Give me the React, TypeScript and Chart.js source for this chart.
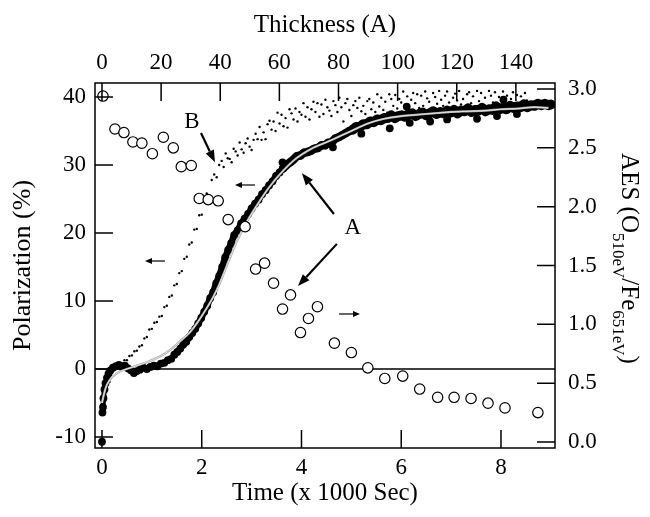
import React, { useEffect, useRef } from "react";
import { Chart, registerables } from "chart.js";

Chart.register(...registerables);

// ---- tick labels ----
const timeTicks = [0, 2, 4, 6, 8];
const thicknessTicks = [0, 20, 40, 60, 80, 100, 120, 140];
const polTicks = [-10, 0, 10, 20, 30, 40];
const aesTicks = [0, 0.5, 1.0, 1.5, 2.0, 2.5, 3.0];

// ---- AES (open circles, right axis) ----
const aesTime = [0.02, 0.26, 0.44, 0.62, 0.8, 1.01, 1.23, 1.43, 1.59, 1.79, 1.95, 2.13, 2.33, 2.53, 2.87, 3.08, 3.26, 3.44, 3.62, 3.78, 3.98, 4.14, 4.32, 4.66, 5.0, 5.33, 5.67, 6.03, 6.37, 6.73, 7.06, 7.4, 7.74, 8.08, 8.74];
const aesValue = [2.94, 2.66, 2.63, 2.55, 2.54, 2.45, 2.59, 2.5, 2.34, 2.35, 2.07, 2.06, 2.05, 1.89, 1.83, 1.47, 1.52, 1.35, 1.13, 1.25, 0.93, 1.05, 1.15, 0.84, 0.76, 0.63, 0.54, 0.56, 0.45, 0.38, 0.38, 0.37, 0.33, 0.29, 0.25];

// ---- Polarization A (large filled dots, main trace) ----
const aTime = [0.0, 0.005, 0.01, 0.02, 0.03, 0.05, 0.07, 0.1, 0.13, 0.17, 0.22, 0.28, 0.34, 0.4, 0.46, 0.52, 0.58, 0.64, 0.7, 0.76, 0.83, 0.9, 0.97, 1.04, 1.11, 1.18, 1.25, 1.32, 1.39, 1.45, 1.51, 1.57, 1.63, 1.69, 1.75, 1.81, 1.87, 1.93, 1.99, 2.05, 2.11, 2.17, 2.23, 2.29, 2.35, 2.41, 2.47, 2.53, 2.59, 2.65, 2.72, 2.79, 2.86, 2.93, 3.0, 3.07, 3.14, 3.21, 3.28, 3.35, 3.42, 3.49, 3.56, 3.63, 3.7, 3.77, 3.84, 3.91, 3.98, 4.05, 4.12, 4.19, 4.26, 4.33, 4.4, 4.47, 4.54, 4.61, 4.68, 4.75, 4.82, 4.89, 4.96, 5.03, 5.1, 5.17, 5.24, 5.31, 5.38, 5.45, 5.52, 5.59, 5.66, 5.73, 5.8, 5.87, 5.94, 6.01, 6.08, 6.15, 6.22, 6.29, 6.36, 6.43, 6.5, 6.57, 6.64, 6.71, 6.78, 6.85, 6.92, 6.99, 7.06, 7.13, 7.2, 7.27, 7.34, 7.41, 7.48, 7.55, 7.62, 7.69, 7.76, 7.83, 7.9, 7.97, 8.04, 8.11, 8.18, 8.25, 8.32, 8.39, 8.46, 8.53, 8.6, 8.67, 8.74, 8.81, 8.88, 8.95, 9.0];
const aPol = [-10.7, null, -6.4, -5.6, -4.3, -3.0, -2.1, -1.3, -0.7, -0.2, 0.2, 0.4, 0.6, 0.3, 0.5, 0.1, -0.2, -0.6, -0.3, -0.1, 0.2, 0.0, 0.3, 0.5, 0.4, 0.8, 0.9, 1.3, 1.5, 2.1, 2.5, 3.0, 3.6, 4.0, 4.7, 5.3, 5.9, 6.7, 7.5, 8.4, 9.3, 10.4, 11.3, 12.6, 13.7, 15.0, 16.4, 17.5, 18.5, 19.7, 20.4, 21.4, 22.1, 22.8, 23.6, 24.3, 24.9, 25.7, 26.3, 27.0, 27.6, 28.4, 28.9, 29.5, 30.0, 30.4, 30.8, 31.3, 31.4, 31.8, 31.9, 32.1, 32.4, 32.5, 32.9, 32.9, 33.3, 33.4, 33.9, 34.1, 34.4, 34.7, 35.0, 35.2, 35.6, 35.6, 36.0, 36.0, 36.4, 36.3, 36.7, 36.6, 36.9, 36.9, 37.3, 36.9, 37.2, 37.3, 37.1, 37.5, 37.6, 37.2, 37.5, 37.7, 37.3, 37.6, 37.9, 37.5, 37.8, 37.6, 38.0, 37.7, 38.1, 37.6, 38.0, 37.9, 38.3, 37.8, 38.1, 38.0, 38.4, 37.9, 38.2, 38.1, 38.6, 38.2, 38.4, 38.2, 38.7, 38.4, 38.6, 38.5, 38.9, 38.5, 38.8, 38.7, 39.0, 38.8, 39.0, 38.8, 38.9];

// ---- Polarization A (stray dots off the main trace) ----
const aStrayTime = [4.63, 5.77, 6.17, 6.58, 6.92, 7.52, 7.92, 8.32, 6.11, 8.05, 3.62, 5.2];
const aStrayPol = [32.6, 35.4, 36.2, 36.4, 36.7, 36.8, 37.2, 37.5, 38.6, 39.6, 30.4, 34.6];

// ---- Polarization B (small dots) ----
const bTime = [0.15, 0.2, 0.25, 0.3, 0.35, 0.4, 0.45, 0.5, 0.55, 0.6, 0.65, 0.7, 0.75, 0.8, 0.85, 0.9, 0.95, 1.0, 1.05, 1.1, 1.15, 1.2, 1.25, 1.3, 1.35, 1.4, 1.45, 1.5, 1.55, 1.6, 1.65, 1.7, 1.75, 1.8, 1.85, 1.9, 1.95, 2.0, 2.05, 2.1, 2.15, 2.2, 2.25, 2.3, 2.35, 2.4, 2.44, 2.48, 2.52, 2.56, 2.6, 2.64, 2.68, 2.72, 2.76, 2.8, 2.84, 2.88, 2.92, 2.96, 3.0, 3.04, 3.08, 3.12, 3.16, 3.2, 3.24, 3.28, 3.32, 3.36, 3.4, 3.44, 3.48, 3.52, 3.56, 3.6, 3.64, 3.68, 3.72, 3.76, 3.8, 3.84, 3.88, 3.92, 3.96, 4.0, 4.04, 4.08, 4.12, 4.16, 4.2, 4.24, 4.28, 4.32, 4.36, 4.4, 4.44, 4.48, 4.52, 4.56, 4.6, 4.64, 4.68, 4.72, 4.76, 4.8, 4.84, 4.88, 4.92, 4.96, 5.0, 5.04, 5.08, 5.12, 5.16, 5.2, 5.24, 5.28, 5.32, 5.36, 5.4, 5.44, 5.48, 5.52, 5.56, 5.6, 5.64, 5.68, 5.72, 5.76, 5.8, 5.84, 5.88, 5.92, 5.96, 6.0, 6.04, 6.08, 6.12, 6.16, 6.2, 6.24, 6.28, 6.32, 6.36, 6.4, 6.44, 6.48, 6.52, 6.56, 6.6, 6.64, 6.68, 6.72, 6.76, 6.8, 6.84, 6.88, 6.92, 6.96, 7.0, 7.04, 7.08, 7.12, 7.16, 7.2, 7.24, 7.28, 7.32, 7.36, 7.4, 7.44, 7.48, 7.52, 7.56, 7.6, 7.64, 7.68, 7.72, 7.76, 7.8, 7.84, 7.88, 7.92, 7.96, 8.0, 8.04, 8.08, 8.12, 8.16, 8.2, 8.24, 8.28, 8.32, 8.36, 8.4, 8.44, 8.48, 8.52, 8.56];
const bPol = [-1.9, -0.6, 0.4, 0.4, 0.9, 0.8, 1.3, 1.3, 1.9, 2.0, 2.6, 2.7, 3.3, 3.5, 4.5, 4.7, 5.8, 5.9, 6.8, 6.9, 7.7, 7.8, 9.1, 9.3, 10.6, 10.8, 12.3, 12.5, 14.1, 14.4, 16.2, 16.5, 18.3, 18.6, 20.5, 20.6, 22.6, 22.7, 24.6, 25.8, 25.5, 27.8, 28.6, 28.2, 30.0, 30.6, 29.7, 31.7, 31.0, 30.9, 30.4, 32.4, 32.0, 31.4, 33.3, 32.3, 31.8, 33.2, 33.9, 32.7, 32.2, 33.7, 34.6, 33.8, 35.6, 33.7, 34.8, 33.8, 36.0, 36.5, 35.2, 36.4, 35.0, 37.7, 36.1, 37.4, 35.7, 36.9, 35.5, 38.2, 37.6, 36.7, 38.3, 36.4, 37.8, 37.4, 39.1, 37.1, 38.5, 36.7, 38.2, 39.3, 37.8, 39.1, 37.1, 38.9, 37.5, 39.6, 38.5, 38.0, 37.2, 39.4, 38.8, 37.8, 39.9, 38.5, 36.4, 39.1, 39.7, 38.1, 37.2, 38.8, 39.4, 38.4, 39.9, 37.9, 38.7, 37.5, 39.4, 39.7, 38.2, 39.2, 37.8, 40.4, 38.6, 39.9, 38.1, 39.3, 37.7, 40.4, 39.7, 38.7, 40.3, 38.3, 39.7, 39.2, 40.8, 38.7, 40.1, 38.2, 39.6, 40.6, 39.1, 40.4, 38.4, 40.2, 38.7, 40.8, 39.8, 39.3, 38.4, 40.6, 40.0, 39.0, 40.9, 39.6, 38.7, 40.2, 40.8, 39.2, 38.3, 39.9, 40.5, 39.5, 40.9, 38.9, 39.7, 38.5, 40.4, 40.7, 39.1, 40.1, 38.6, 40.9, 39.4, 40.6, 38.8, 39.9, 38.3, 40.9, 40.2, 39.2, 40.7, 38.7, 40.0, 39.5, 40.8, 39.0, 40.2, 38.3, 39.7, 40.7, 39.1, 40.3, 38.3, 40.1, 38.6, 40.6, 39.5, 39.0];

// ---- fitted curve (grey line) ----
const fitTime = [0.0, 0.05, 0.1, 0.2, 0.35, 0.5, 0.7, 0.9, 1.1, 1.25, 1.4, 1.57, 1.75, 1.91, 2.07, 2.23, 2.35, 2.45, 2.57, 2.7, 2.9, 3.1, 3.35, 3.6, 3.9, 4.2, 4.45, 4.64, 5.0, 5.33, 5.66, 6.0, 6.33, 6.65, 7.0, 7.34, 7.7, 8.0, 8.33, 8.66, 8.95];
const fitPol = [-5.0, -3.4, -2.3, -1.2, -0.4, 0.0, 0.5, 1.0, 1.6, 2.2, 3.0, 4.1, 5.3, 6.8, 8.6, 10.6, 12.4, 14.2, 16.4, 18.7, 21.6, 24.0, 26.7, 28.9, 31.0, 32.4, 33.2, 33.8, 35.0, 36.1, 36.8, 37.2, 37.4, 37.6, 37.8, 37.9, 38.0, 38.2, 38.3, 38.5, 38.4];

// ---- annotations (in data units: time, polarization) ----
const textNotes = [
  { text: "B", t: 1.805, p: 36.3 },
  { text: "A", t: 5.03, p: 20.7 },
];
const arrowNotes = [
  { from: [1.985, 34.7], to: [2.266, 30.4], bold: true },
  { from: [4.65, 22.8], to: [4.01, 28.8], bold: true },
  { from: [4.71, 18.4], to: [3.93, 12.2], bold: true },
  { from: [3.068, 27.06], to: [2.667, 27.06], bold: false },
  { from: [1.263, 15.88], to: [0.862, 15.88], bold: false },
  { from: [4.752, 8.09], to: [5.173, 8.09], bold: false },
];

const X_MIN = -0.14;
const X_MAX = 9.083;
const THICK_PER_KSEC = 16.87;
const SERIF = "'Liberation Serif', 'Times New Roman', serif";

function drawArrow(ctx: CanvasRenderingContext2D, x1: number, y1: number, x2: number, y2: number, bold: boolean) {
  const lw = bold ? 2.2 : 1.2;
  const hl = bold ? 12 : 7;
  const hw = bold ? 4.5 : 3;
  const ang = Math.atan2(y2 - y1, x2 - x1);
  const bx = x2 - hl * Math.cos(ang);
  const by = y2 - hl * Math.sin(ang);
  ctx.lineWidth = lw;
  ctx.beginPath();
  ctx.moveTo(x1, y1);
  ctx.lineTo(bx, by);
  ctx.stroke();
  ctx.beginPath();
  ctx.moveTo(x2, y2);
  ctx.lineTo(bx + hw * Math.sin(ang), by - hw * Math.cos(ang));
  ctx.lineTo(bx - hw * Math.sin(ang), by + hw * Math.cos(ang));
  ctx.closePath();
  ctx.fill();
}

const framePlugin = {
  id: "frame",
  beforeDatasetsDraw(chart: any) {
    const { ctx, chartArea: a, scales } = chart;
    const y0 = scales.y.getPixelForValue(0);
    ctx.save();
    ctx.strokeStyle = "#000";
    ctx.lineWidth = 1.5;
    ctx.beginPath();
    ctx.moveTo(a.left, y0);
    ctx.lineTo(a.right, y0);
    ctx.stroke();
    ctx.restore();
  },
  afterDatasetsDraw(chart: any) {
    const { ctx, chartArea: a, scales } = chart;
    const L = 18;
    ctx.save();
    ctx.strokeStyle = "#000";
    ctx.lineWidth = 1.5;
    ctx.beginPath();
    for (const v of timeTicks) {
      const px = scales.x.getPixelForValue(v);
      ctx.moveTo(px, a.bottom);
      ctx.lineTo(px, a.bottom - L);
    }
    for (const v of thicknessTicks) {
      const px = scales.x2.getPixelForValue(v);
      ctx.moveTo(px, a.top);
      ctx.lineTo(px, a.top + L);
    }
    for (const v of polTicks) {
      const py = scales.y.getPixelForValue(v);
      ctx.moveTo(a.left, py);
      ctx.lineTo(a.left + L, py);
    }
    for (const v of aesTicks) {
      const py = scales.y2.getPixelForValue(v);
      ctx.moveTo(a.right, py);
      ctx.lineTo(a.right - L, py);
    }
    ctx.stroke();
    ctx.strokeRect(a.left, a.top, a.right - a.left, a.bottom - a.top);
    ctx.restore();
  },
  afterDraw(chart: any) {
    const { ctx, chartArea: a, scales } = chart;
    ctx.save();
    ctx.fillStyle = "#000";
    ctx.strokeStyle = "#000";
    for (const n of arrowNotes) {
      drawArrow(
        ctx,
        scales.x.getPixelForValue(n.from[0]),
        scales.y.getPixelForValue(n.from[1]),
        scales.x.getPixelForValue(n.to[0]),
        scales.y.getPixelForValue(n.to[1]),
        n.bold
      );
    }
    ctx.font = `23px ${SERIF}`;
    ctx.textAlign = "center";
    ctx.textBaseline = "middle";
    for (const n of textNotes) {
      ctx.fillText(n.text, scales.x.getPixelForValue(n.t), scales.y.getPixelForValue(n.p));
    }
    // right axis title with subscripts, rotated clockwise
    const segs: [string, boolean][] = [["AES (O", false], ["510eV", true], ["/Fe", false], ["651eV", true], [")", false]];
    const mainFont = `25px ${SERIF}`;
    const subFont = `17px ${SERIF}`;
    let total = 0;
    const widths: number[] = [];
    for (const [s, sub] of segs) {
      ctx.font = sub ? subFont : mainFont;
      const w = ctx.measureText(s).width;
      widths.push(w);
      total += w;
    }
    const cx = a.right + 67;
    const cy = (a.top + a.bottom) / 2 - 7;
    ctx.translate(cx, cy);
    ctx.rotate(Math.PI / 2);
    ctx.textAlign = "left";
    ctx.textBaseline = "alphabetic";
    let u = -total / 2;
    segs.forEach(([s, sub], i) => {
      ctx.font = sub ? subFont : mainFont;
      ctx.fillText(s, u, sub ? 9 : 0);
      u += widths[i];
    });
    ctx.restore();
  },
};

// band width of trace A widens where the scatter of its dots grows
const aBandWidth = (t: number) => (t < 1.4 ? 5 : t < 3.6 ? 6.5 : t < 5 ? 8.5 : 10);

export default function App() {
  const ref = useRef<HTMLCanvasElement | null>(null);
  useEffect(() => {
    if (!ref.current) return;
    Chart.defaults.font.family = SERIF;
    Chart.defaults.color = "#000";
    const pts = (xs: number[], ys: (number | null)[]) => xs.map((x, i) => ({ x, y: ys[i] }));
    const chart = new Chart(ref.current, {
      type: "scatter",
      data: {
        datasets: [
          {
            label: "AES",
            data: pts(aesTime, aesValue),
            xAxisID: "x",
            yAxisID: "y2",
            showLine: false,
            pointRadius: 5.2,
            pointBorderWidth: 1.2,
            pointBackgroundColor: "#fff",
            pointBorderColor: "#000",
            order: 0,
          },
          {
            label: "fit-inner",
            data: pts(fitTime, fitPol),
            xAxisID: "x",
            yAxisID: "y",
            showLine: true,
            borderColor: "#f4f4f4",
            borderWidth: 0.8,
            pointRadius: 0,
            tension: 0.3,
            order: 1,
          },
          {
            label: "fit",
            data: pts(fitTime, fitPol),
            xAxisID: "x",
            yAxisID: "y",
            showLine: true,
            borderColor: "#a8a8a8",
            borderWidth: 2.2,
            pointRadius: 0,
            tension: 0.3,
            order: 2,
          },
          {
            label: "A",
            data: pts(aTime, aPol),
            xAxisID: "x",
            yAxisID: "y",
            showLine: true,
            spanGaps: false,
            borderColor: "#000",
            borderWidth: 6,
            borderJoinStyle: "round",
            borderCapStyle: "round",
            segment: { borderWidth: (c: any) => aBandWidth(c.p0.parsed.x) },
            pointRadius: 3.9,
            pointBorderWidth: 0,
            pointBackgroundColor: "#000",
            order: 3,
          },
          {
            label: "A stray",
            data: pts(aStrayTime, aStrayPol),
            xAxisID: "x",
            yAxisID: "y",
            showLine: false,
            pointRadius: 3.9,
            pointBorderWidth: 0,
            pointBackgroundColor: "#000",
            order: 3,
          },
          {
            label: "B",
            data: pts(bTime, bPol),
            xAxisID: "x",
            yAxisID: "y",
            showLine: false,
            pointRadius: 1.2,
            pointBorderWidth: 0,
            pointBackgroundColor: "#000",
            order: 4,
          },
        ],
      } as any,
      options: {
        animation: false,
        responsive: false,
        layout: { padding: 0 },
        plugins: { legend: { display: false }, tooltip: { enabled: false } },
        scales: {
          x: {
            type: "linear",
            position: "bottom",
            min: X_MIN,
            max: X_MAX,
            afterBuildTicks: (s: any) => {
              s.ticks = timeTicks.map((v) => ({ value: v }));
            },
            afterFit: (s: any) => {
              s.height = 69;
            },
            grid: { display: false, drawTicks: false },
            border: { display: false },
            ticks: { font: { size: 23 }, padding: 6, maxRotation: 0, autoSkip: false, color: "#000" },
            title: { display: true, text: "Time (x 1000 Sec)", font: { size: 25 }, padding: { top: 0, bottom: 9 }, color: "#000" },
          },
          x2: {
            type: "linear",
            position: "top",
            min: X_MIN * THICK_PER_KSEC,
            max: X_MAX * THICK_PER_KSEC,
            afterBuildTicks: (s: any) => {
              s.ticks = thicknessTicks.map((v) => ({ value: v }));
            },
            afterFit: (s: any) => {
              s.height = 83;
            },
            grid: { display: false, drawTicks: false },
            border: { display: false },
            ticks: { font: { size: 23 }, padding: 6, maxRotation: 0, autoSkip: false, color: "#000" },
            title: { display: true, text: "Thickness (A)", font: { size: 25 }, padding: { top: 10, bottom: 0 }, color: "#000" },
          },
          y: {
            type: "linear",
            position: "left",
            min: -11.62,
            max: 42.06,
            afterBuildTicks: (s: any) => {
              s.ticks = polTicks.map((v) => ({ value: v }));
            },
            afterFit: (s: any) => {
              s.width = 95;
            },
            grid: { display: false, drawTicks: false },
            border: { display: false },
            ticks: { font: { size: 23 }, padding: 9, autoSkip: false, color: "#000" },
            title: { display: true, text: "Polarization (%)", font: { size: 26 }, padding: { top: 7.5, bottom: 0 }, color: "#000" },
          },
          y2: {
            type: "linear",
            position: "right",
            min: -0.051,
            max: 3.051,
            afterBuildTicks: (s: any) => {
              s.ticks = aesTicks.map((v) => ({ value: v }));
            },
            afterFit: (s: any) => {
              s.width = 95;
            },
            grid: { display: false, drawTicks: false },
            border: { display: false },
            ticks: {
              font: { size: 23 },
              padding: 13,
              autoSkip: false,
              color: "#000",
              callback: (v: any) => Number(v).toFixed(1),
            },
          },
        },
      } as any,
      plugins: [framePlugin],
    });
    return () => chart.destroy();
  }, []);
  return (
    <div style={{ position: "fixed", left: 0, top: 0, width: 650, height: 517, background: "#fff" }}>
      <canvas ref={ref} width={650} height={517} style={{ display: "block" }} />
    </div>
  );
}
